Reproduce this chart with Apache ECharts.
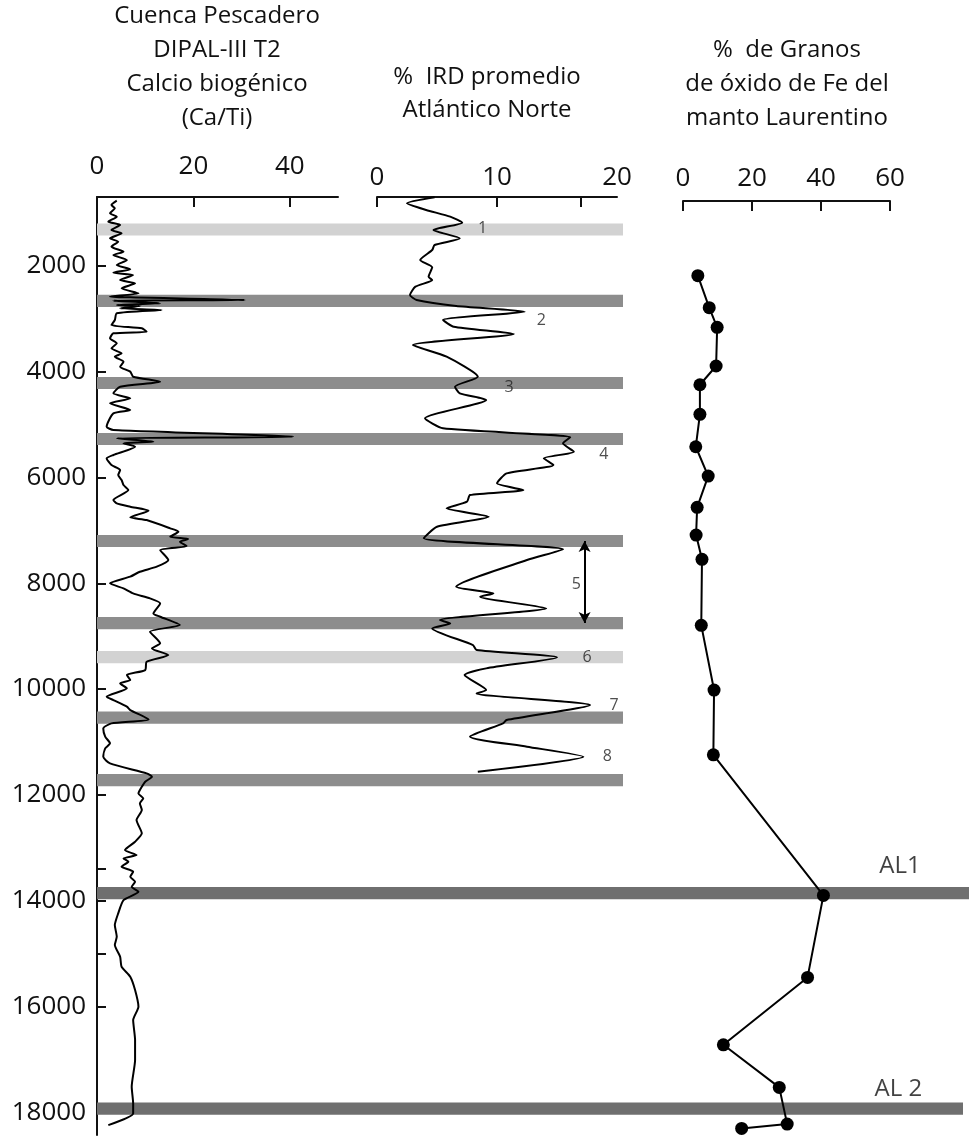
<!DOCTYPE html>
<html><head><meta charset="utf-8">
<script src="https://cdn.jsdelivr.net/npm/echarts@6/dist/echarts.min.js"></script>
<style>html,body{margin:0;padding:0;background:#fff}#c{width:969px;height:1137px}</style>
</head><body><div id="c"></div>
<script>
// ---- tick labels ----
const ageLabels = [2000,4000,6000,8000,10000,12000,14000,16000,18000];
const ageExtraTicks = [13400,15000];
const caTiTicks = [0,20,40];
const irdLabels = [0,10,20];
const irdTicks = [0,10,17];
const feTicks = [0,20,40,60];

// ---- Ca/Ti (Cuenca Pescadero DIPAL-III T2) ----
const caTiAge = [764,846,909,1004,1067,1161,1225,1319,1382,1477,1540,1634,1729,1792,1887,1981,2063,2126,2170,2265,2328,2422,2517,2580,2593,2643,2656,2706,2738,2757,2801,2832,2895,3021,3116,3179,3242,3273,3368,3462,3557,3652,3715,3809,3904,3998,4093,4187,4282,4408,4503,4597,4723,4786,5039,5101,5228,5259,5322,5354,5417,5574,5638,5764,5858,5953,6047,6142,6236,6426,6489,6552,6627,6753,6804,6961,7024,7119,7163,7214,7296,7371,7560,7686,7781,7875,8001,8096,8191,8285,8380,8569,8632,8790,8916,9136,9231,9357,9483,9641,9735,9830,9893,9987,10145,10208,10334,10397,10574,10649,10744,10901,11027,11122,11280,11406,11595,11658,11752,11847,11973,12067,12162,12288,12477,12729,12887,13045,13139,13202,13265,13360,13454,13549,13643,13738,13833,13991,14242,14463,14684,14841,15062,15251,15440,15692,16007,16260,16638,17016,17520,17836,18025,18246];
const caTiValue = [4.1,3.0,3.7,2.7,4.1,2.35,4.8,3.0,5.1,2.7,4.4,3.0,5.5,3.4,6.2,4.1,6.9,3.4,7.5,4.8,7.9,5.1,8.6,2.7,6.9,30.7,3.4,13.1,4.1,8.9,4.8,13.4,4.1,3.7,3.0,9.3,10.3,3.4,2.7,4.1,3.0,5.1,3.7,5.5,4.8,6.9,7.5,13.1,4.8,3.4,6.9,2.7,6.9,3.4,2.0,3.4,40.7,4.1,11.7,5.5,7.9,3.4,2.0,3.0,4.8,4.4,5.1,5.5,6.5,3.4,4.1,6.9,10.7,6.9,10.3,15.2,16.9,15.2,18.9,17.2,18.6,13.1,14.8,12.4,8.9,6.9,2.7,5.5,7.5,11.0,13.1,11.7,13.1,17.2,11.0,13.1,11.4,14.8,10.3,10.0,6.2,6.9,4.8,6.2,2.0,3.4,6.2,6.9,10.7,3.0,1.3,1.7,2.7,1.7,1.3,2.7,10.3,11.4,10.0,9.3,8.6,9.6,8.9,9.3,8.2,9.3,7.9,5.8,8.2,5.5,6.5,5.1,7.5,6.9,7.9,7.2,8.6,5.5,4.4,3.7,4.1,3.7,4.8,5.1,6.9,7.9,8.6,7.5,7.9,7.9,7.2,7.5,7.5,2.35];

// ---- % IRD promedio Atlántico Norte ----
const irdAge = [701,815,941,1067,1180,1319,1477,1603,1697,1887,2025,2202,2265,2391,2548,2643,2757,2864,3021,3147,3286,3494,3715,4093,4282,4408,4534,4881,5070,5240,5354,5511,5637,5763,5921,6110,6236,6331,6457,6583,6741,6930,7150,7358,7560,8065,8191,8254,8474,8695,8758,8853,9168,9262,9401,9609,9735,10019,10082,10303,10586,10649,10901,11090,11280,11563];
const irdValue = [4.8,2.5,4.1,6.1,7.1,4.7,6.9,4.8,4.6,3.6,4.6,4.3,4.6,3.2,2.75,3.3,6.6,12.3,5.5,6.4,11.4,3.0,5.8,8.4,6.5,6.9,9.1,4.0,5.5,16.1,15.5,16.4,13.9,14.7,10.8,10.0,12.2,7.75,7.5,5.8,9.3,5.0,3.9,15.5,12.5,6.6,9.7,8.6,14.1,5.25,6.1,4.6,8.0,8.3,15.0,9.1,7.3,9.1,8.3,17.75,10.8,10.5,7.75,12.5,17.2,8.4];

// ---- % granos de óxido de Fe ----
const feAge = [2183,2788,3160,3891,4245,4805,5418,5972,6564,7088,7547,8795,10019,11243,13902,15453,16727,17533,18227,18308];
const feValue = [4.3,7.6,9.9,9.6,4.9,4.9,3.7,7.3,4.1,3.8,5.5,5.3,9.0,8.8,40.7,36.1,11.7,27.9,30.2,17.0];

// ---- horizontal event bands (age) ----
const bandLightAge = [1310,9395];
const bandDarkAge = [2658,4213,5272,7201,8752,10539,11721];
const bandALAge = [13858,17934];

// ---- event annotations ----
const eventNames = ['1','2','3','4','5','6','7','8'];
const eventAge = [1287,3021,4294,5556,8014,9401,10309,11280];
const eventIrd = [8.8,13.7,11.0,18.9,16.6,17.5,19.75,19.2];
const event5Range = [7201,8752];
const event5Ird = 17.3;
const alNames = ['AL1','AL 2'];
const alAge = [13348,17565];
const alFe = [62.9,62.4];

// ---- layout ----
const AGE_MIN = 695, AGE_MAX = 18433;
const TOP = 197, H = 938;
const FONT = '"Open Sans", "DejaVu Sans", sans-serif';
const BAND_HALF = 115;
const BAND_W = 872, MAIN_END = 526, AL1_END = 872, AL2_END = 866;

const zip = (a, b) => a.map((v, i) => [b[i], v]);

const bands = [];
bandLightAge.forEach(a => bands.push([a, 'light']));
bandDarkAge.forEach(a => bands.push([a, 'dark']));
bandALAge.forEach((a, i) => bands.push([a, 'al' + i]));
const bandColor = {light:'#d2d2d2', dark:'#8d8d8d', al0:'#6f6f6f', al1:'#6f6f6f'};
const bandEnd = {light:MAIN_END, dark:MAIN_END, al0:AL1_END, al1:AL2_END};

function hiddenY(i){return {gridIndex:i,type:'value',inverse:true,min:AGE_MIN,max:AGE_MAX,show:false};}
function topX(i, min, max, ticks, labels, margin, offset){
  return {gridIndex:i,type:'value',position:'top',min:min,max:max,offset:offset||0,
    axisLine:{show:true,lineStyle:{color:'#111',width:2}},
    axisTick:{show:true,inside:true,length:10,customValues:ticks,lineStyle:{color:'#111',width:2}},
    axisLabel:{customValues:labels,margin:margin,fontSize:26,color:'#111',fontFamily:FONT,formatter:v=>String(v)},
    splitLine:{show:false}};
}

const chart = echarts.init(document.getElementById('c'), null, {renderer:'canvas'});
const titleLines = [
  ['Cuenca Pescadero',217,16],['DIPAL-III T2',217,50],['Calcio biogénico',217,84],['(Ca/Ti)',217,118],
  ['%  IRD promedio',487,77],['Atlántico Norte',487,110],
  ['%  de Granos',787,50],['de óxido de Fe del',787,84],['manto Laurentino',787,118]
];
chart.setOption({
  animation:false,
  backgroundColor:'#fff',
  graphic: titleLines.map(t => ({type:'text',x:t[1],y:t[2],style:{text:t[0],fill:'#111',font:'24px ' + FONT,align:'center',verticalAlign:'middle'}})),
  grid:[
    {left:97,top:TOP,width:241,height:H},
    {left:377,top:TOP,width:240,height:H},
    {left:683,top:TOP,width:207,height:H},
    {left:97,top:TOP,width:BAND_W,height:H}
  ],
  xAxis:[
    topX(0,0,50,caTiTicks,caTiTicks,17),
    topX(1,0,20,irdTicks,irdLabels,6),
    topX(2,0,60,feTicks,feTicks,9,-4),
    {gridIndex:3,type:'value',min:0,max:BAND_W,show:false}
  ],
  yAxis:[
    {gridIndex:0,type:'value',inverse:true,min:AGE_MIN,max:AGE_MAX,
     axisLine:{show:true,lineStyle:{color:'#111',width:2}},
     axisTick:{show:true,inside:true,length:9,customValues:ageLabels.concat(ageExtraTicks),lineStyle:{color:'#111',width:2}},
     axisLabel:{customValues:ageLabels,margin:11,fontSize:26,color:'#111',fontFamily:FONT,formatter:v=>String(v)},
     splitLine:{show:false}},
    hiddenY(1), hiddenY(2), hiddenY(3)
  ],
  series:[
    {type:'custom',xAxisIndex:3,yAxisIndex:3,z:1,silent:true,data:bands,
     renderItem:function(params, api){
       const age = api.value(0); const kind = bands[params.dataIndex][1];
       const p1 = api.coord([0, age - BAND_HALF]);
       const p2 = api.coord([bandEnd[kind], age + BAND_HALF]);
       return {type:'rect',shape:{x:p1[0],y:p1[1],width:p2[0]-p1[0],height:p2[1]-p1[1]},style:{fill:bandColor[kind]}};
     }},
    {type:'line',xAxisIndex:0,yAxisIndex:0,z:3,data:zip(caTiAge,caTiValue),symbol:'none',smooth:0.2,
     lineStyle:{color:'#000',width:2},clip:false},
    {type:'line',xAxisIndex:1,yAxisIndex:1,z:3,data:zip(irdAge,irdValue),symbol:'none',smooth:0.2,
     lineStyle:{color:'#000',width:2},clip:false,
     markLine:{silent:true,symbol:['arrow','arrow'],symbolSize:[9,11],label:{show:false},
       lineStyle:{color:'#000',width:2,type:'solid'},
       data:[[{coord:[event5Ird,event5Range[0]]},{coord:[event5Ird,event5Range[1]]}]]}},
    {type:'line',xAxisIndex:2,yAxisIndex:2,z:3,data:zip(feAge,feValue),symbol:'circle',symbolSize:13,
     itemStyle:{color:'#000'},lineStyle:{color:'#000',width:2},clip:false},
    {type:'scatter',xAxisIndex:1,yAxisIndex:1,z:4,clip:false,symbolSize:0,
     data:eventNames.map((n,i)=>[eventIrd[i],eventAge[i],n]),
     label:{show:true,position:'inside',formatter:p=>p.value[2],fontSize:16,color:'#222',fontFamily:FONT}},
    {type:'scatter',xAxisIndex:2,yAxisIndex:2,z:4,clip:false,symbolSize:0,
     data:alNames.map((n,i)=>[alFe[i],alAge[i],n]),
     label:{show:true,position:'inside',formatter:p=>p.value[2],fontSize:24,color:'#111',fontFamily:FONT}}
  ]
});
</script></body></html>
